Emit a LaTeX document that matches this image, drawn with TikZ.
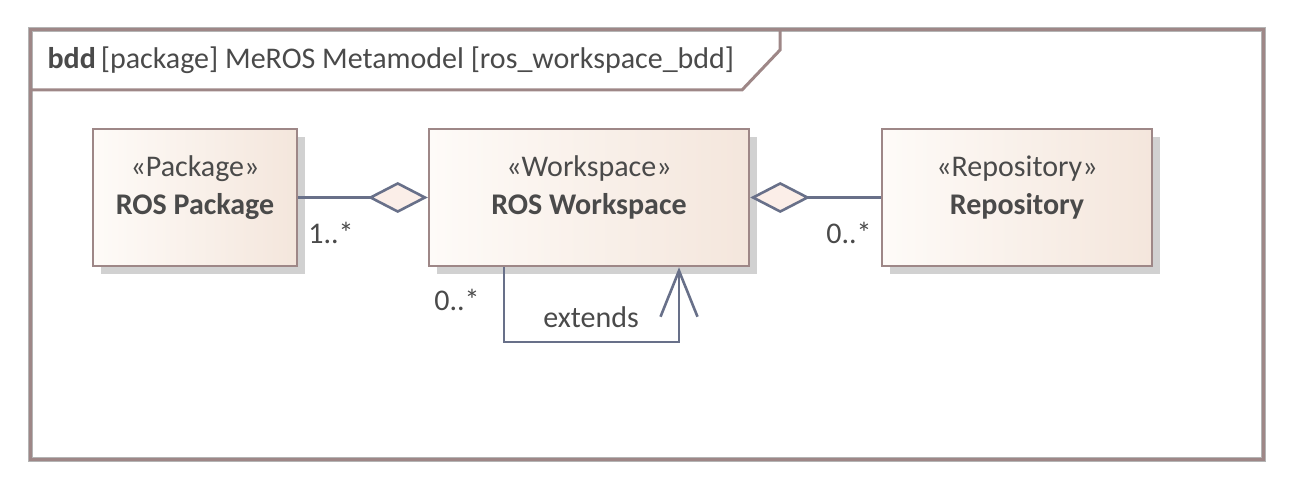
\documentclass[tikz,border=0pt]{standalone}
\usepackage{fontspec}
\setmainfont{Carlito}
\usetikzlibrary{arrows.meta,shadows}

\definecolor{framebrown}{HTML}{9E8787}
\definecolor{framegrey}{HTML}{B4B4B4}
\definecolor{linkgrey}{HTML}{687089}
\definecolor{boxleft}{HTML}{FEFBF8}
\definecolor{boxright}{HTML}{F4E6DC}
\definecolor{diafill}{HTML}{FBEEE8}
\definecolor{txtgrey}{HTML}{4A4A4A}
\newcommand{\boxpad}{\rule[-25pt]{0pt}{0pt}}

\begin{document}
\begin{tikzpicture}[x=1pt, y=-1pt, line join=miter,
  every node/.style={font=\fontsize{30}{38}\selectfont, text=txtgrey}]
 \tikzstyle{block}=[draw=framebrown, line width=2.5pt, left color=boxleft, right color=boxright,
   minimum height=137pt, inner sep=0pt, align=center,
   general shadow={fill=black!18, shadow xshift=8pt, shadow yshift=-8pt}]
 \tikzstyle{link}=[draw=linkgrey, line width=2.6pt]
 \tikzstyle{aggr}=[-{Diamond[length=60pt, width=31pt, fill=diafill, line width=2.6pt]}]

 \useasboundingbox (0,0) rectangle (1293,489);

 % diagram frame
 \draw[framegrey, line width=5pt] (30,30) rectangle (1263,459);
 \draw[framebrown, line width=3pt] (30,30) rectangle (1263,459);
 \draw[framebrown, line width=3pt] (30,90) -- (742,90) -- (780,50) -- (780,30);
 \node (title) at (44,60) [anchor=west] {\textbf{bdd}\,[package] MeROS Metamodel [ros\_workspace\_bdd]};

 \node (pkg) at (195,197.5) [block, minimum width=204pt] {«Package»\\\textbf{ROS Package}\boxpad};
 \node (ws) at (589,197.5) [block, minimum width=320pt] {«Workspace»\\\textbf{ROS Workspace}\boxpad};
 \node (repo) at (1017,197.5) [block, minimum width=270pt] {«Repository»\\\textbf{Repository}\boxpad};

 \coordinate (loopl) at (504,342);
 \coordinate (loopr) at (679,342);

 \node (pkgmult) at (331,233) {1..*};
 \node (repomult) at (849,233) {0..*};
 \node (wsmult) at (457,300) {0..*};
 \node (extlabel) at (591,317) {extends};

 \draw [link, aggr] (pkg.east) -- (ws.west);
 \draw [link, aggr] (repo.west) -- (ws.east);
 \draw [link, -{Straight Barb[length=46pt, width=37pt, line width=2.6pt]}]
   (ws.south -| loopl) -- (loopl) -- (loopr) -- (ws.south -| loopr);

\end{tikzpicture}
\end{document}
